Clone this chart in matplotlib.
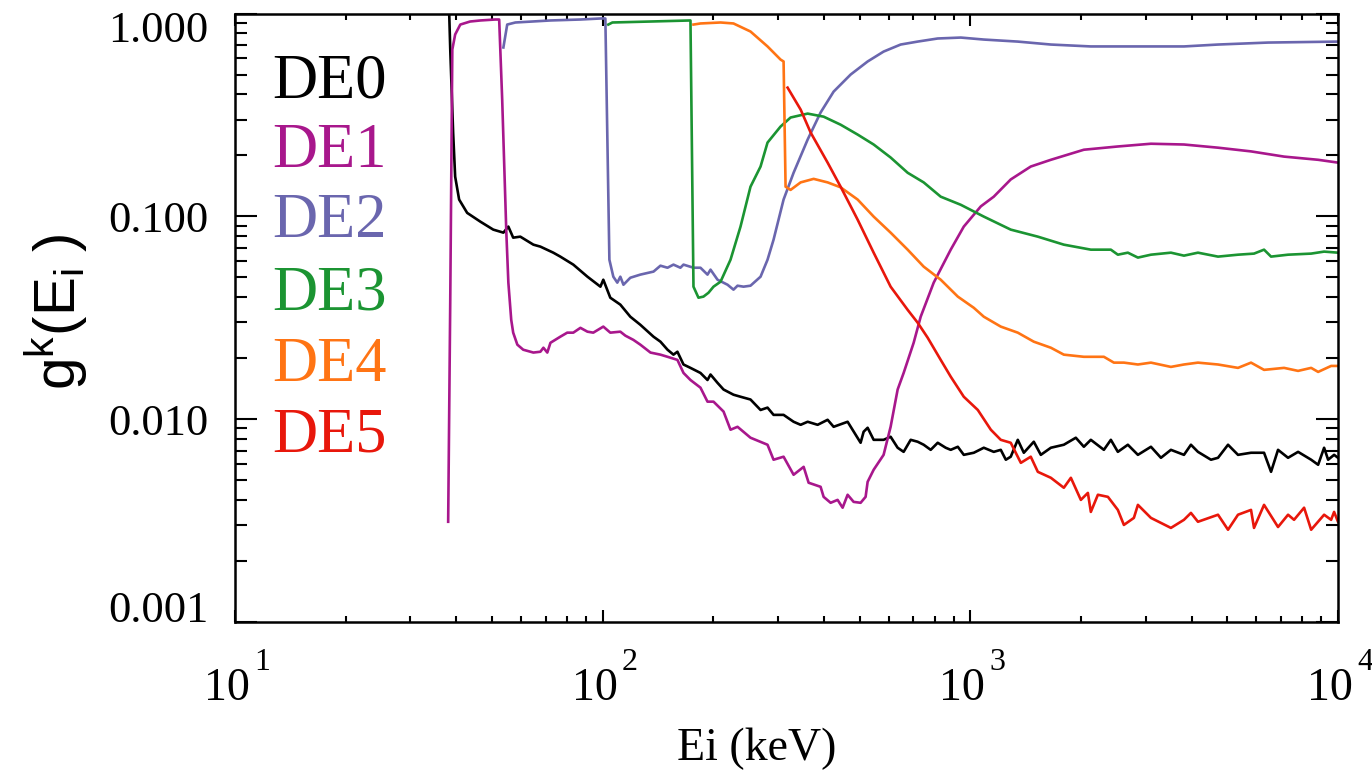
import matplotlib
matplotlib.use("Agg")
import matplotlib.pyplot as plt
from matplotlib.ticker import FixedLocator, LogLocator, NullFormatter, FixedFormatter
from matplotlib.transforms import ScaledTranslation, blended_transform_factory

plt.rcParams['font.family'] = ['Liberation Serif', 'DejaVu Serif']
plt.rcParams['mathtext.fontset'] = 'custom'
plt.rcParams['mathtext.rm'] = 'Liberation Serif'
plt.rcParams['mathtext.it'] = 'Liberation Serif:italic'
plt.rcParams['mathtext.sf'] = 'Liberation Sans'

series_names = ['DE0', 'DE1', 'DE2', 'DE3', 'DE4', 'DE5']
series_colors = ['#000000', '#A8178C', '#6A66AE', '#1B9432', '#FF7414', '#E8170B']

de0_E = [38.0, 38.5, 39.2, 39.7, 40.7, 42.8, 46.5, 50.4, 53.7, 55.4, 57.1, 59.7, 64.8, 67.7, 73.4, 76.7,
         83.2, 90.9, 98.6, 100.4, 104.9, 111.7, 118.9, 126.6, 137.5, 143.6, 150.1, 155.8, 159.7, 165.9,
         173.3, 184.5, 192.8, 196.5, 205.3, 213.2, 226.9, 237.1, 252.4, 268.8, 280.8, 291.6, 310.5, 330.6,
         345.5, 361.0, 384.3, 409.1, 424.8, 463.7, 503.0, 512.6, 525.6, 545.8, 580.9, 607.0, 634.3, 658.6,
         688.3, 719.0, 746.6, 780.2, 815.2, 857.0, 884.4, 924.6, 959.8, 1022, 1088, 1158, 1210, 1249, 1288,
         1346, 1398, 1488, 1555, 1656, 1796, 1936, 2036, 2127, 2308, 2411, 2519, 2682, 2856, 3099, 3299,
         3512, 3811, 3981, 4160, 4513, 4717, 5022, 5346, 5800, 6293, 6575, 6869, 7314, 7788, 8452, 8830,
         9167, 9400, 9759, 10000]
de0_g = [1.5, 0.664, 0.259, 0.157, 0.121, 0.104, 0.0941, 0.0860, 0.0831, 0.0890, 0.0785, 0.0794, 0.0725,
         0.0709, 0.0662, 0.0633, 0.0578, 0.0504, 0.0450, 0.0487, 0.0397, 0.0367, 0.0320, 0.0292, 0.0255,
         0.0241, 0.0220, 0.0208, 0.0215, 0.0186, 0.0179, 0.0169, 0.0156, 0.0166, 0.0151, 0.0140, 0.0132,
         0.0129, 0.0125, 0.0111, 0.0114, 0.0105, 0.0105, 0.00971, 0.00938, 0.00971, 0.00938, 0.00993,
         0.00917, 0.00971, 0.00765, 0.00867, 0.00907, 0.00791, 0.00791, 0.00819, 0.00723, 0.00690, 0.00791,
         0.00774, 0.00748, 0.00706, 0.00765, 0.00723, 0.00706, 0.00731, 0.00667, 0.00683, 0.00723, 0.00690,
         0.00706, 0.00631, 0.00653, 0.00791, 0.00683, 0.00774, 0.00667, 0.00723, 0.00748, 0.00810, 0.00731,
         0.00791, 0.00706, 0.00791, 0.00690, 0.00748, 0.00667, 0.00731, 0.00645, 0.00706, 0.00667, 0.00748,
         0.00690, 0.00631, 0.00645, 0.00748, 0.00667, 0.00683, 0.00683, 0.00550, 0.00706, 0.00645, 0.00690,
         0.00631, 0.00596, 0.00723, 0.00631, 0.00667, 0.00645]

de1_E = [38.0, 38.5, 39.0, 39.7, 41.0, 43.6, 46.5, 51.0, 52.3, 53.3, 54.7, 55.4, 56.4, 57.1, 58.6, 60.8,
         64.8, 67.7, 69.0, 70.7, 72.1, 76.7, 80.1, 83.2, 87.0, 90.9, 94.3, 100.4, 104.9, 111.7, 115.3, 121.2,
         126.6, 134.9, 143.6, 150.1, 159.7, 165.9, 173.3, 184.5, 192.8, 200.2, 213.2, 222.7, 232.7, 252.4,
         280.8, 291.6, 310.5, 330.6, 352.1, 363.2, 391.5, 399.0, 416.9, 435.5, 449.4, 463.7, 481.5, 503.0,
         519.0, 525.6, 545.8, 580.9, 607.0, 634.3, 658.6, 701.2, 732.8, 795.0, 884.4, 959.8, 1068, 1158,
         1288, 1460, 1656, 2036, 2519, 3099, 3811, 4717, 5800, 7133, 8830, 10000]
de1_g = [0.00312, 0.0388, 0.664, 0.788, 0.882, 0.913, 0.924, 0.934, 0.934, 0.376, 0.0831, 0.0471, 0.0309,
         0.0267, 0.0233, 0.0220, 0.0213, 0.0215, 0.0225, 0.0213, 0.0238, 0.0255, 0.0267, 0.0267, 0.0282,
         0.0270, 0.0267, 0.0286, 0.0267, 0.0270, 0.0258, 0.0246, 0.0233, 0.0213, 0.0208, 0.0203, 0.0196,
         0.0169, 0.0156, 0.0143, 0.0122, 0.0122, 0.0109, 0.00887, 0.00917, 0.00810, 0.00748, 0.00631,
         0.00653, 0.00532, 0.00582, 0.00486, 0.00464, 0.00414, 0.00387, 0.00400, 0.00366, 0.00424, 0.00391,
         0.00387, 0.00414, 0.00491, 0.00563, 0.00667, 0.00917, 0.0140, 0.0169, 0.0238, 0.0320, 0.0471,
         0.0685, 0.0890, 0.112, 0.125, 0.152, 0.176, 0.190, 0.213, 0.221, 0.228, 0.226, 0.218, 0.209, 0.197,
         0.190, 0.184]

de2_E = [53.7, 55.0, 57.9, 72.1, 87.0, 98.6, 101.7, 104.3, 106.9, 109.6, 111.7, 113.9, 118.9, 126.6, 137.5,
         143.6, 150.1, 155.8, 162.7, 165.9, 176.6, 184.5, 192.8, 196.5, 205.3, 218.6, 226.9, 232.7, 241.6,
         252.4, 268.8, 280.8, 291.6, 310.5, 330.6, 361.0, 391.5, 424.8, 472.5, 525.6, 580.9, 646.3, 719.0,
         815.2, 942.0, 1088, 1346, 1656, 2127, 2785, 3811, 4717, 6453, 10000]
de2_g = [0.680, 0.882, 0.903, 0.924, 0.934, 0.945, 0.945, 0.0611, 0.0504, 0.0471, 0.0504, 0.0460, 0.0498,
         0.0516, 0.0534, 0.0571, 0.0558, 0.0578, 0.0558, 0.0578, 0.0558, 0.0558, 0.0516, 0.0546, 0.0487,
         0.0460, 0.0435, 0.0455, 0.0450, 0.0455, 0.0504, 0.0611, 0.0767, 0.121, 0.164, 0.239, 0.325, 0.412,
         0.500, 0.580, 0.649, 0.703, 0.727, 0.753, 0.761, 0.744, 0.727, 0.703, 0.688, 0.688, 0.688, 0.703,
         0.719, 0.727]

de3_E = [103.6, 106.3, 134.9, 173.3, 176.6, 182.2, 188.0, 194.0, 200.2, 209.2, 222.7, 237.1, 252.4, 268.8,
         280.8, 304.6, 324.4, 361.0, 399.0, 443.8, 493.7, 545.8, 607.0, 675.3, 746.6, 830.7, 942.0, 1088,
         1288, 1526, 1796, 2127, 2411, 2519, 2682, 2856, 3099, 3512, 3811, 4160, 4717, 5346, 5910, 6293,
         6575, 7314, 8452, 9167, 10000]
de3_g = [0.882, 0.903, 0.913, 0.924, 0.0450, 0.0397, 0.0402, 0.0420, 0.0450, 0.0476, 0.0611, 0.0890, 0.140,
         0.176, 0.231, 0.277, 0.307, 0.321, 0.310, 0.283, 0.253, 0.226, 0.195, 0.164, 0.147, 0.125, 0.114,
         0.0997, 0.0860, 0.0794, 0.0725, 0.0685, 0.0685, 0.0647, 0.0662, 0.0626, 0.0647, 0.0662, 0.0640,
         0.0662, 0.0633, 0.0647, 0.0655, 0.0685, 0.0633, 0.0647, 0.0655, 0.0670, 0.0662]

de4_E = [176.6, 184.5, 209.2, 226.9, 252.4, 280.8, 304.6, 310.5, 314.4, 324.4, 345.5, 374.8, 409.1, 443.8,
         493.7, 545.8, 607.0, 675.3, 746.6, 830.7, 924.6, 1022, 1088, 1210, 1346, 1488, 1656, 1796, 2036,
         2308, 2457, 2616, 2856, 3099, 3512, 3811, 4160, 4717, 5346, 5800, 6293, 7133, 7788, 8452, 8830,
         9578, 10000]
de4_g = [0.882, 0.893, 0.903, 0.893, 0.815, 0.688, 0.593, 0.580, 0.140, 0.135, 0.147, 0.153, 0.147, 0.139,
         0.121, 0.0997, 0.0831, 0.0685, 0.0565, 0.0487, 0.0402, 0.0354, 0.0320, 0.0286, 0.0267, 0.0241,
         0.0225, 0.0208, 0.0203, 0.0203, 0.0190, 0.0190, 0.0186, 0.0190, 0.0181, 0.0186, 0.0190, 0.0186,
         0.0179, 0.0190, 0.0175, 0.0179, 0.0173, 0.0179, 0.0171, 0.0183, 0.0183]

de5_E = [318.4, 345.5, 367.8, 409.1, 443.8, 493.7, 545.8, 607.0, 675.3, 719.0, 765.6, 830.7, 884.4, 959.8,
         1048, 1137, 1210, 1288, 1372, 1460, 1526, 1656, 1796, 1877, 1998, 2088, 2127, 2223, 2367, 2519,
         2616, 2785, 2856, 3099, 3512, 3811, 3981, 4160, 4717, 5022, 5346, 5800, 5910, 6293, 6869, 7314,
         7594, 8087, 8452, 9167, 9578, 9759, 10000]
de5_g = [0.431, 0.336, 0.259, 0.184, 0.140, 0.0963, 0.0662, 0.0450, 0.0346, 0.0299, 0.0252, 0.0196, 0.0162,
         0.0129, 0.0111, 0.00887, 0.00791, 0.00765, 0.00609, 0.00653, 0.00550, 0.00514, 0.00459, 0.00514,
         0.00400, 0.00433, 0.00349, 0.00424, 0.00414, 0.00357, 0.00301, 0.00326, 0.00378, 0.00326, 0.00291,
         0.00319, 0.00345, 0.00312, 0.00338, 0.00285, 0.00338, 0.00357, 0.00291, 0.00378, 0.00294, 0.00338,
         0.00319, 0.00366, 0.00285, 0.00338, 0.00319, 0.00349, 0.00312]

xticks = [10, 100, 1000, 10000]
xtick_base = '10'
xtick_exponents = ['1', '2', '3', '4']
yticks = [0.001, 0.01, 0.1, 1.0]
ytick_labels = ['0.001', '0.010', '0.100', '1.000']

W, H = 1372, 781
fig = plt.figure(figsize=(W / 100, H / 100), dpi=100)
ax = fig.add_axes([235 / W, 1 - 622 / H, (1338 - 235) / W, (622 - 13.5) / H])

all_E = [de0_E, de1_E, de2_E, de3_E, de4_E, de5_E]
all_g = [de0_g, de1_g, de2_g, de3_g, de4_g, de5_g]
for E, g, c in zip(all_E, all_g, series_colors):
    ax.plot(E, g, color=c, lw=1.9, solid_joinstyle='round')

ax.set_xscale('log')
ax.set_yscale('log')
ax.set_xlim(10, 10000)
ax.set_ylim(0.001, 1.0)

ax.xaxis.set_major_locator(FixedLocator(xticks))
ax.xaxis.set_major_formatter(NullFormatter())
ax.xaxis.set_minor_locator(LogLocator(base=10, subs=range(2, 10)))
ax.xaxis.set_minor_formatter(NullFormatter())
ax.yaxis.set_major_locator(FixedLocator(yticks))
ax.yaxis.set_major_formatter(FixedFormatter(ytick_labels))
ax.yaxis.set_minor_locator(LogLocator(base=10, subs=range(2, 10)))
ax.yaxis.set_minor_formatter(NullFormatter())

ax.tick_params(axis='both', which='both', direction='in', top=True, right=True, width=1.5, colors='black')
ax.tick_params(axis='x', which='major', length=8.6)
ax.tick_params(axis='x', which='minor', length=4.3)
ax.tick_params(axis='y', which='major', length=16, pad=19, labelsize=32)
ax.tick_params(axis='y', which='minor', length=8.6)
for s in ax.spines.values():
    s.set_linewidth(1.8)

# x tick labels: base "10" with a raised exponent, as in the original
trans = blended_transform_factory(ax.transData, ax.transAxes)
for xv, ex in zip(xticks, xtick_exponents):
    ax.text(xv, 0, xtick_base, transform=trans + ScaledTranslation(15 / 100, -78 / 100, fig.dpi_scale_trans),
            ha='right', va='baseline', fontsize=33)
    ax.text(xv, 0, ex, transform=trans + ScaledTranslation(19 / 100, -48 / 100, fig.dpi_scale_trans),
            ha='left', va='baseline', fontsize=23)

# shift the end y labels inward as in the original
fig.canvas.draw()
shifts = {'1.000': -13, '0.001': 15}
for lab in ax.get_yticklabels():
    t = lab.get_text()
    if t in shifts:
        lab.set_transform(lab.get_transform() + ScaledTranslation(0, shifts[t] / 100, fig.dpi_scale_trans))

fig.text(757 / W, 1 - 760 / H, 'Ei (keV)', ha='center', va='baseline', fontsize=33)
fig.text(56 / W, 1 - 312 / H, r'$\mathsf{g^k(E_i\ )}$', rotation=90, ha='center', va='center', fontsize=42)

legend_baselines = [98, 167, 237, 309, 381, 452]
for name, c, yb in zip(series_names, series_colors, legend_baselines):
    fig.text(272 / W, 1 - yb / H, name, color=c, fontsize=45, ha='left', va='baseline')

fig.savefig('out.png', dpi=100)
